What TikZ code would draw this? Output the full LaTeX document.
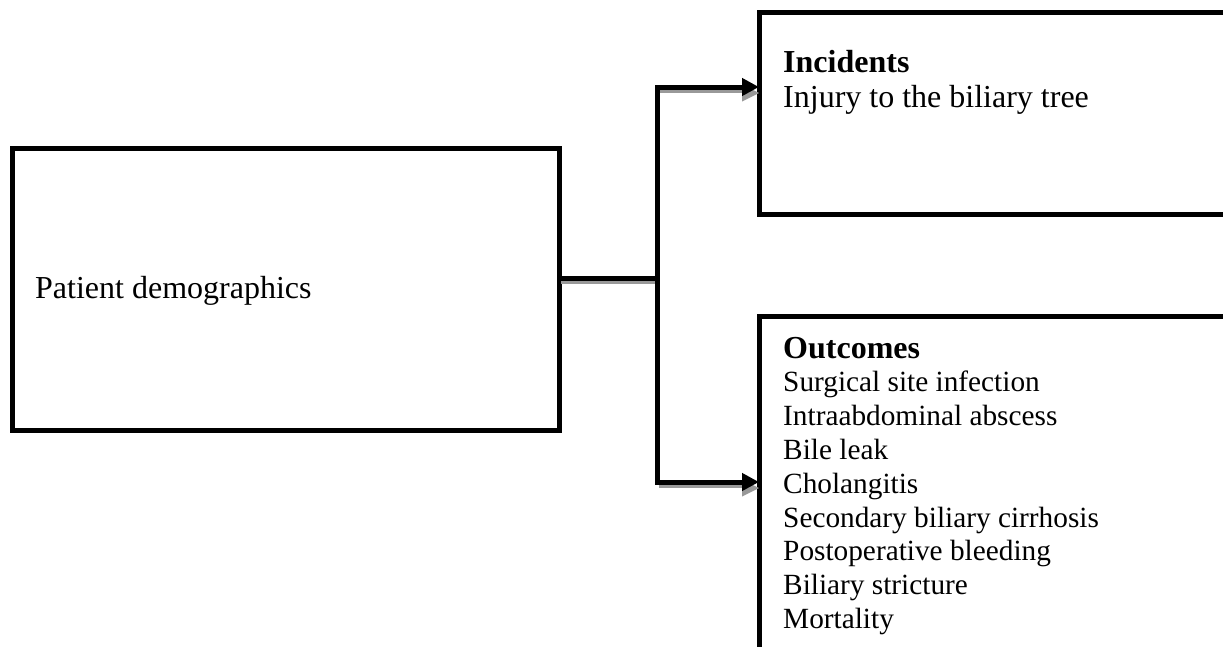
\documentclass[tikz,border=0pt]{standalone}
\usepackage{fontspec}
\setmainfont{Liberation Serif}
\usetikzlibrary{arrows.meta}
\begin{document}
\begin{tikzpicture}[x=1pt,y=-1pt,
  boxstyle/.style={draw=black,line width=5pt,fill=white,inner sep=0pt,outer sep=0pt},
  bigtxt/.style={font=\fontsize{32}{37}\selectfont,inner sep=0pt,anchor=base west},
  listtxt/.style={font=\fontsize{29.3}{33.8}\selectfont,inner sep=0pt,anchor=base west,align=left},
  conn/.style={line width=5pt},
  shade/.style={line width=5pt,draw=black!40},
  tip/.style={-{Triangle[length=17pt,width=17pt]}}]
\useasboundingbox (0,0) rectangle (1223,646);
\clip (0,0) rectangle (1223,646);
% boxes
\node[boxstyle,minimum width=547pt,minimum height=282pt] (demo) at (285.5,289) {};
\node[boxstyle,minimum width=520pt,minimum height=202pt,anchor=north west] (inc) at (759,12) {};
\node[boxstyle,minimum width=520pt,minimum height=400pt,anchor=north west] (out) at (759,316) {};
% texts
\node[bigtxt] (tdemo) at (35,298) {Patient demographics};
\node[bigtxt] (tinch) at (783,72) {\bfseries Incidents};
\node[bigtxt] (tinc) at (783,107) {Injury to the biliary tree};
\node[bigtxt] (touth) at (783,358) {\bfseries Outcomes};
\node[listtxt,anchor=north west] (tout) at (783,371) {Surgical site infection\\Intraabdominal abscess\\Bile leak\\Cholangitis\\Secondary biliary cirrhosis\\Postoperative bleeding\\Biliary stricture\\Mortality};
% connector points
\coordinate (j) at (657,278);
\coordinate (a1) at (759,87);
\coordinate (a2) at (759,482);
% shadows
\draw[shade] ([shift={(2,3)}]j -| demo.east) -- ([shift={(2,3)}]j);
\draw[shade] ([shift={(2,3)}]j |- a1) -- ([shift={(-14,3)}]a1);
\draw[shade] ([shift={(2,3)}]j |- a2) -- ([shift={(-14,3)}]a2);
\fill[black!40] ([shift={(-17,-5.5)}]a1) ++(0,3) -- ++(17,8.5) -- ++(-17,8.5) -- cycle;
\fill[black!40] ([shift={(-17,-5.5)}]a2) ++(0,3) -- ++(17,8.5) -- ++(-17,8.5) -- cycle;
% connectors
\draw[conn] (j -| demo.east) -- (j);
\draw[conn,tip] (j) |- (a1);
\draw[conn,tip] (j) |- (a2);
\end{tikzpicture}
\end{document}
